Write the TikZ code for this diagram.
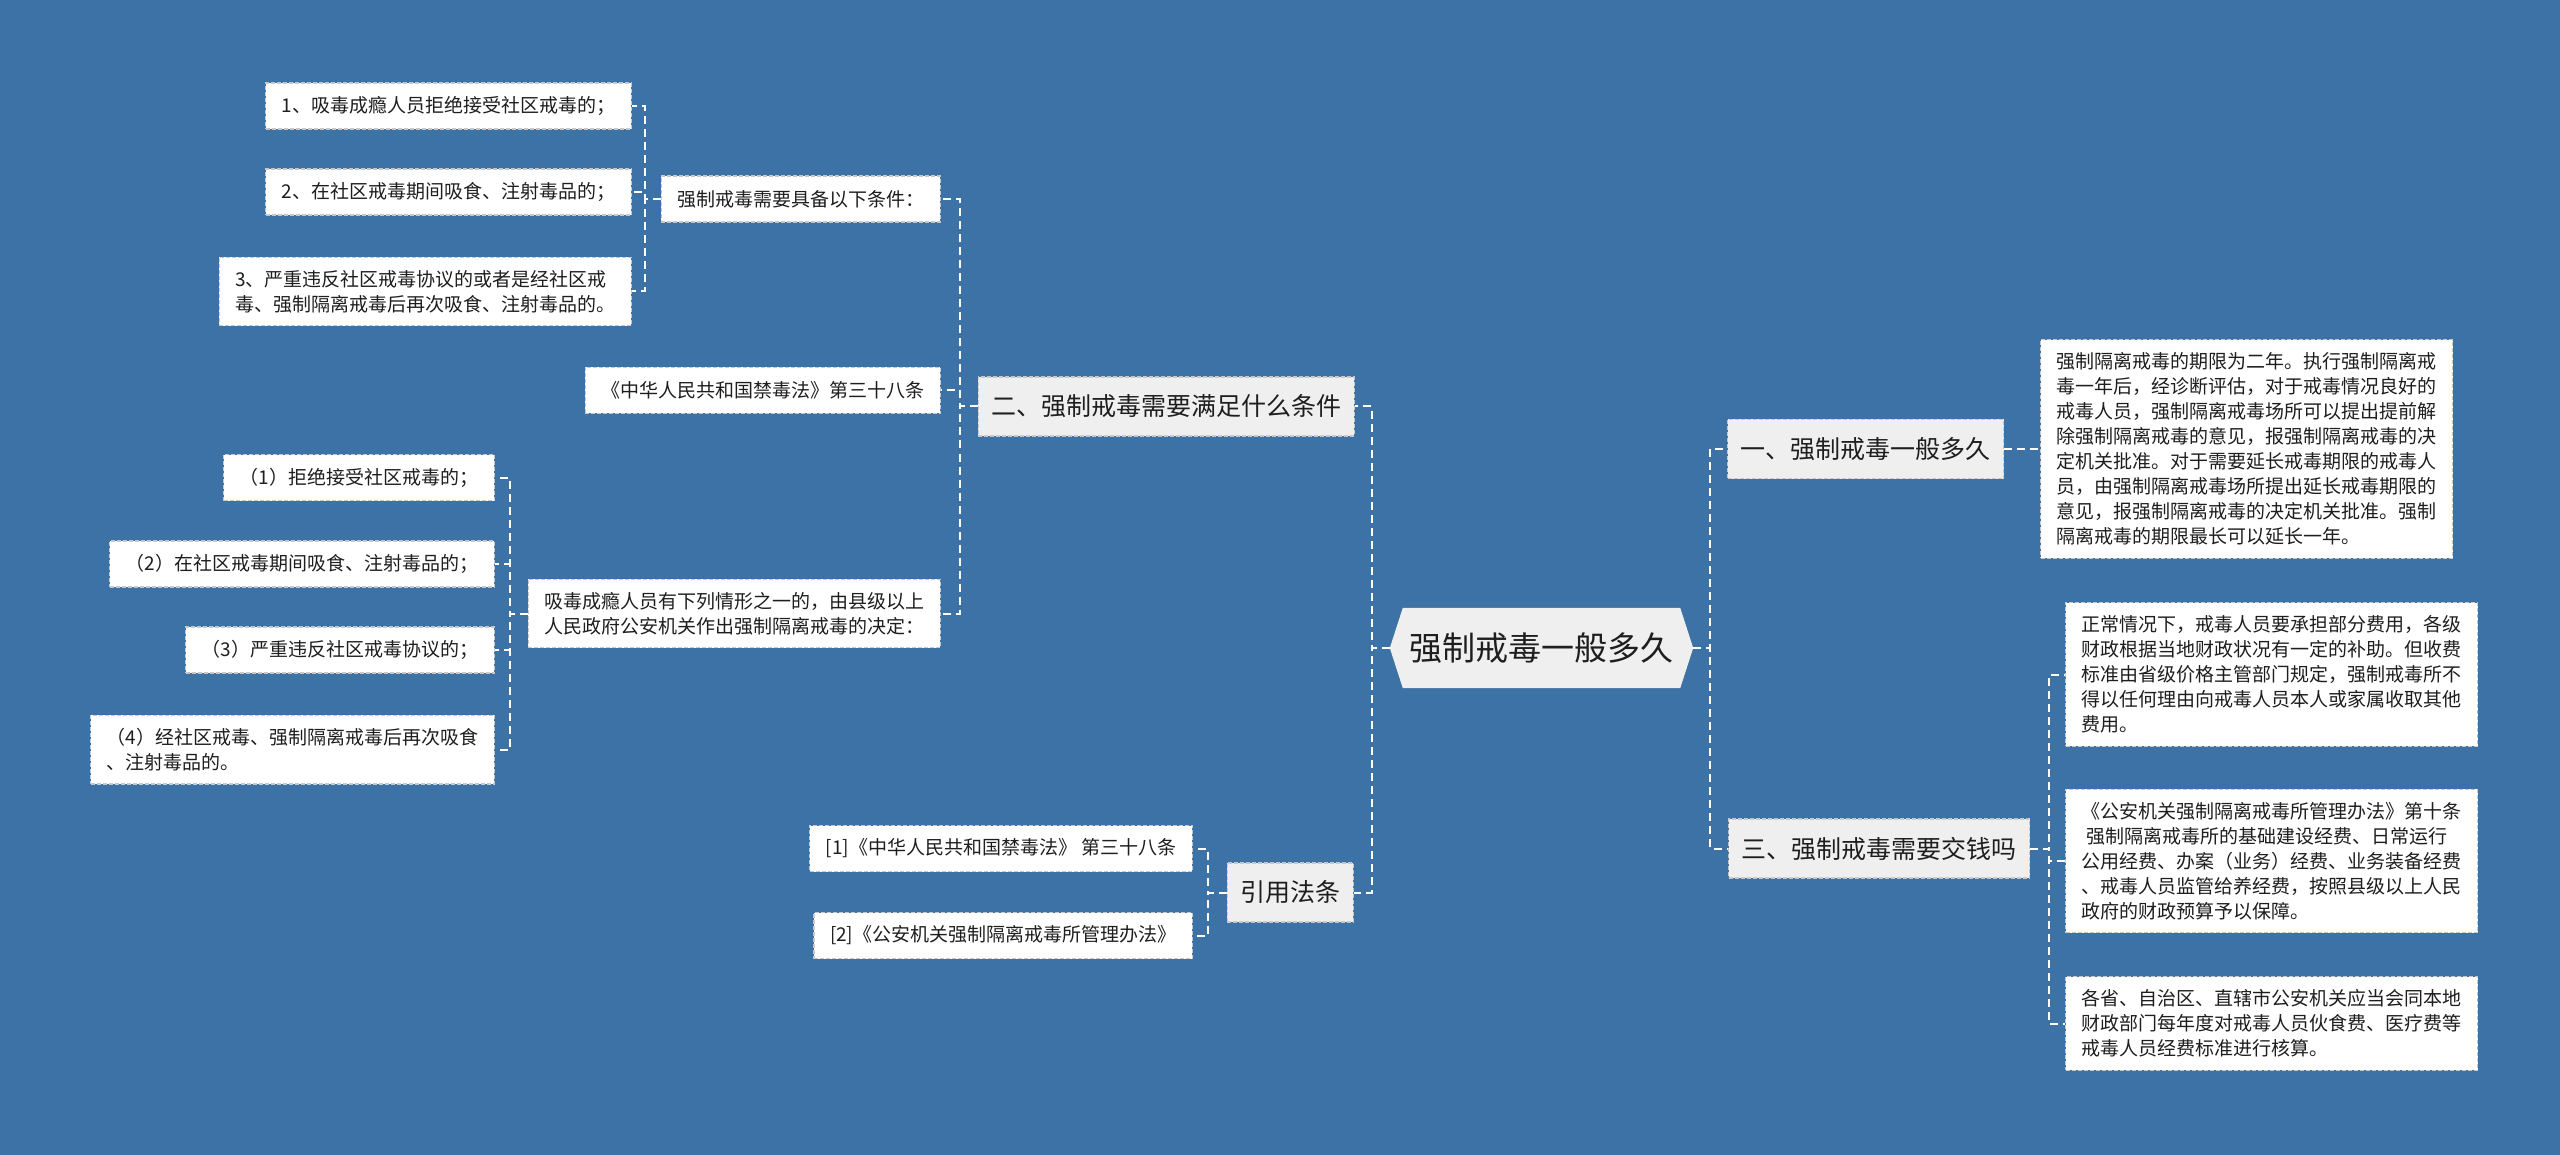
\documentclass[tikz,border=0pt]{standalone}
\usepackage{fontspec}
\newfontfamily\cjk{Noto Sans CJK SC}
\usetikzlibrary{backgrounds}
\definecolor{bg}{HTML}{3D72A6}
\definecolor{lvfill}{HTML}{EFEFEF}
\definecolor{txt}{HTML}{1E1E1E}
\definecolor{edge}{HTML}{C8C8C8}
\tikzset{
  conn/.style={draw=white, line width=2pt, dash pattern=on 8pt off 5pt},
  rootnode/.style={font=\cjk\fontsize{33}{40}\selectfont, text=txt, minimum width=303pt, minimum height=80pt, inner sep=0pt},
  lvone/.style={font=\cjk\fontsize{25}{30}\selectfont, text=txt, fill=lvfill, draw=edge, line width=1.2pt, dash pattern=on 4pt off 2pt, inner xsep=13pt, inner ysep=0pt, minimum height=59pt},
  leaf/.style={font=\cjk\fontsize{19}{25}\selectfont, text=txt, fill=white, draw=edge, line width=1.2pt, dash pattern=on 4pt off 2pt, inner xsep=16pt, inner ysep=13pt, minimum height=46pt, align=left},
}
\begin{document}
\begin{tikzpicture}[x=1pt,y=-1pt]
\useasboundingbox (0,0) rectangle (2560,1155);

% root
\node[rootnode] (root) at (1541.5,648) {强制戒毒一般多久};
\begin{pgfonlayer}{background}
  \fill[bg] (0,0) rectangle (2560,1155);
  \fill[lvfill] (root.west) -- ([xshift=13pt]root.north west) -- ([xshift=-13pt]root.north east)
     -- (root.east) -- ([xshift=-13pt]root.south east) -- ([xshift=13pt]root.south west) -- cycle;
\end{pgfonlayer}

% level one
\node[lvone, anchor=east] (n2) at (1355,406.5) {二、强制戒毒需要满足什么条件};
\node[lvone, anchor=east] (nref) at (1354,892.5) {引用法条};
\node[lvone, anchor=west] (n1) at (1727,449) {一、强制戒毒一般多久};
\node[lvone, anchor=west] (n3) at (1728,848.5) {三、强制戒毒需要交钱吗};

% left: children of n2
\node[leaf, anchor=east] (c1) at (941,199) {强制戒毒需要具备以下条件：};
\node[leaf, anchor=east] (c2) at (941,390.5) {《中华人民共和国禁毒法》第三十八条};
\node[leaf, anchor=east] (c3) at (941,613.5) {吸毒成瘾人员有下列情形之一的，由县级以上\\人民政府公安机关作出强制隔离戒毒的决定：};

\node[leaf, anchor=east] (g1) at (632,106) {1、吸毒成瘾人员拒绝接受社区戒毒的；};
\node[leaf, anchor=east] (g2) at (632,192) {2、在社区戒毒期间吸食、注射毒品的；};
\node[leaf, anchor=east] (g3) at (632,291.5) {3、严重违反社区戒毒协议的或者是经社区戒\\毒、强制隔离戒毒后再次吸食、注射毒品的。};

\node[leaf, anchor=east] (h1) at (495,477.5) {（1）拒绝接受社区戒毒的；};
\node[leaf, anchor=east] (h2) at (495,564) {（2）在社区戒毒期间吸食、注射毒品的；};
\node[leaf, anchor=east] (h3) at (495,650) {（3）严重违反社区戒毒协议的；};
\node[leaf, anchor=east] (h4) at (495,749.5) {（4）经社区戒毒、强制隔离戒毒后再次吸食\\、注射毒品的。};

\node[leaf, anchor=east] (r1) at (1193,848.5) {[1]《中华人民共和国禁毒法》 第三十八条};
\node[leaf, anchor=east] (r2) at (1193,935.5) {[2]《公安机关强制隔离戒毒所管理办法》};

% right
\node[leaf, anchor=west] (d1) at (2040,449) {强制隔离戒毒的期限为二年。执行强制隔离戒\\毒一年后，经诊断评估，对于戒毒情况良好的\\戒毒人员，强制隔离戒毒场所可以提出提前解\\除强制隔离戒毒的意见，报强制隔离戒毒的决\\定机关批准。对于需要延长戒毒期限的戒毒人\\员，由强制隔离戒毒场所提出延长戒毒期限的\\意见，报强制隔离戒毒的决定机关批准。强制\\隔离戒毒的期限最长可以延长一年。};
\node[leaf, anchor=west] (e1) at (2065,674.5) {正常情况下，戒毒人员要承担部分费用，各级\\财政根据当地财政状况有一定的补助。但收费\\标准由省级价格主管部门规定，强制戒毒所不\\得以任何理由向戒毒人员本人或家属收取其他\\费用。};
\node[leaf, anchor=west] (e2) at (2065,861) {《公安机关强制隔离戒毒所管理办法》第十条\\\hspace*{5pt}强制隔离戒毒所的基础建设经费、日常运行\\公用经费、办案（业务）经费、业务装备经费\\、戒毒人员监管给养经费，按照县级以上人民\\政府的财政预算予以保障。};
\node[leaf, anchor=west] (e3) at (2065,1023.5) {各省、自治区、直辖市公安机关应当会同本地\\财政部门每年度对戒毒人员伙食费、医疗费等\\戒毒人员经费标准进行核算。};

% connectors
\draw[conn] (root.west) -- ++(-18,0) |- (n2.east);
\draw[conn] (root.west) -- ++(-18,0) |- (nref.east);
\draw[conn] (root.east) -- ++(17,0) |- (n1.west);
\draw[conn] (root.east) -- ++(17,0) |- (n3.west);

\draw[conn] (n2.west) -- ++(-18,0) |- (c1.east);
\draw[conn] (n2.west) -- ++(-18,0) |- (c2.east);
\draw[conn] (n2.west) -- ++(-18,0) |- (c3.east);

\draw[conn] (c1.west) -- ++(-16,0) |- (g1.east);
\draw[conn] (c1.west) -- ++(-16,0) |- (g2.east);
\draw[conn] (c1.west) -- ++(-16,0) |- (g3.east);

\draw[conn] (c3.west) -- ++(-18,0) |- (h1.east);
\draw[conn] (c3.west) -- ++(-18,0) |- (h2.east);
\draw[conn] (c3.west) -- ++(-18,0) |- (h3.east);
\draw[conn] (c3.west) -- ++(-18,0) |- (h4.east);

\draw[conn] (nref.west) -- ++(-19,0) |- (r1.east);
\draw[conn] (nref.west) -- ++(-19,0) |- (r2.east);

\draw[conn] (n1.east) -- (d1.west);

\draw[conn] (n3.east) -- ++(19,0) |- (e1.west);
\draw[conn] (n3.east) -- ++(19,0) |- (e2.west);
\draw[conn] (n3.east) -- ++(19,0) |- (e3.west);
\end{tikzpicture}
\end{document}
